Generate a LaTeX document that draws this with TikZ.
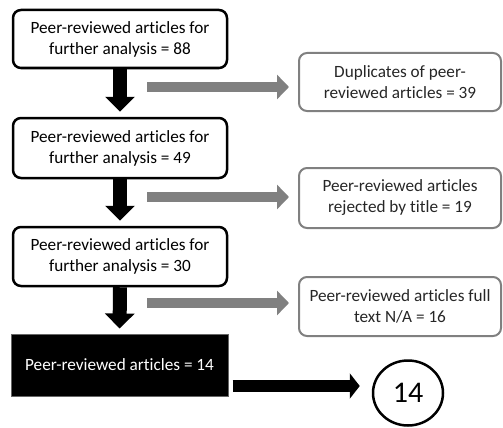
\documentclass[tikz,border=0pt]{standalone}
\usepackage{fontspec}
\setmainfont{Carlito}[Ligatures=NoCommon]
\usetikzlibrary{arrows.meta,shapes.geometric}

\begin{document}
\begin{tikzpicture}[x=1pt,y=-1pt,line cap=butt,
  font=\fontsize{17.2}{21}\selectfont,
  mainbox/.style={draw,line width=2.5pt,rounded corners=8pt,minimum width=214pt,align=center,inner sep=0pt},
  sidebox/.style={draw=black!50,line width=2pt,rounded corners=8pt,minimum width=202pt,align=center,inner sep=0pt,text=black!85},
  downarrow/.style={line width=14pt,-{Triangle[width=29pt,length=15pt]},shorten >=5pt},
  sidearrow/.style={black!50,line width=10pt,-{Triangle[width=24pt,length=12pt]},shorten >=9pt}]
\useasboundingbox (0,0) rectangle (503,428);
% left column
\node[mainbox,minimum height=58pt] (r88) at (120,39) {Peer-reviewed articles for\\further analysis = 88};
\node[mainbox,minimum height=60pt] (r49) at (120,148) {Peer-reviewed articles for\\further analysis = 49};
\node[mainbox,minimum height=59pt] (r30) at (120,256.5) {Peer-reviewed articles for\\further analysis = 30};
\node[draw=black!60,fill=black,text=white,line width=1pt,minimum width=217pt,minimum height=62pt,inner sep=0pt] (fin) at (119.5,365) {Peer-reviewed articles = 14};
% right column
\node[sidebox,minimum height=58pt] (dup) at (400,82) {Duplicates of peer-\\reviewed articles = 39};
\node[sidebox,minimum height=60pt] (title) at (400,198) {Peer-reviewed articles\\rejected by title = 19};
\node[sidebox,minimum height=59pt] (full) at (400,306.5) {Peer-reviewed articles full\\text N/A = 16};
\node[draw,ellipse,line width=2.5pt,minimum width=70pt,minimum height=65pt,inner sep=0pt,font=\fontsize{30}{32}\selectfont] (res) at (408,393) {14};
% arrows
\draw[downarrow] (r88.south) -- (r49.north);
\draw[downarrow] (r49.south) -- (r30.north);
\draw[downarrow] (r30.south) -- (fin.north);
\coordinate (g1) at (147,87);
\coordinate (g2) at (147,197);
\coordinate (g3) at (147,303);
\draw[sidearrow] (g1) -- (g1 -| dup.west);
\draw[sidearrow] (g2) -- (g2 -| title.west);
\draw[sidearrow] (g3) -- (g3 -| full.west);
\coordinate (f1) at (fin.east |- 0,386);
\draw[line width=12pt,-{Triangle[width=25pt,length=10pt]},shorten <=4pt,shorten >=12pt] (f1) -- (f1 -| res.west);
\end{tikzpicture}
\end{document}
